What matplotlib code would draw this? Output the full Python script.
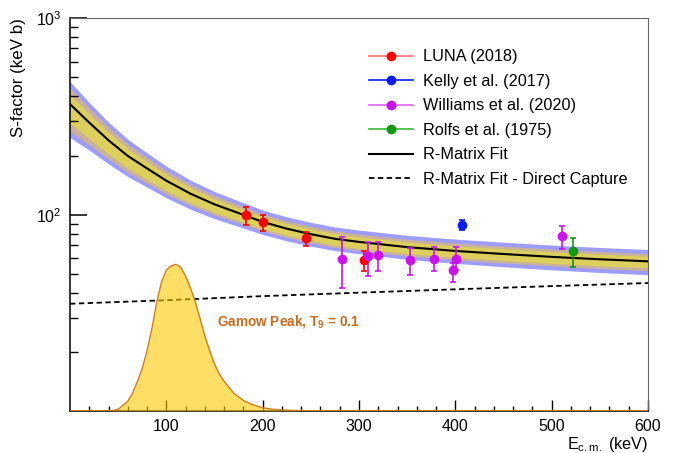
import matplotlib
matplotlib.use("Agg")
import matplotlib.pyplot as plt
import numpy as np
from matplotlib.lines import Line2D
from matplotlib.ticker import LogLocator, NullFormatter, FixedLocator

plt.rcParams['font.family'] = ['Liberation Sans', 'DejaVu Sans']
plt.rcParams['mathtext.fontset'] = 'custom'
plt.rcParams['mathtext.rm'] = 'Liberation Sans'
plt.rcParams['mathtext.it'] = 'Liberation Sans:italic'
plt.rcParams['mathtext.bf'] = 'Liberation Sans:bold'

# R-matrix fit (keV, keV b)
fit_e = [0, 20, 40, 60, 80, 100, 125, 150, 175, 200, 225, 250, 275, 300,
         350, 400, 450, 500, 550, 600]
fit_s = [365, 294, 239, 199, 172, 149, 128, 113, 102, 92, 85, 79.7, 75.5,
         72.8, 68.5, 65.5, 63.2, 61.1, 59.4, 58]
# band half widths in decades (upper / lower), outer -> inner
blue_up = [0.115, 0.102, 0.092, 0.085, 0.079, 0.074, 0.069, 0.065, 0.062, 0.06,
           0.06, 0.06, 0.06, 0.06, 0.06, 0.06, 0.06, 0.06, 0.06, 0.06]
blue_lo = [0.17, 0.14, 0.12, 0.105, 0.095, 0.087, 0.079, 0.073, 0.068, 0.064,
           0.062, 0.061, 0.06, 0.06, 0.062, 0.063, 0.065, 0.066, 0.067, 0.068]
tan_up = [0.084, 0.075, 0.067, 0.061, 0.056, 0.052, 0.048, 0.045, 0.042, 0.04,
          0.04, 0.04, 0.04, 0.04, 0.04, 0.04, 0.04, 0.04, 0.04, 0.04]
tan_lo = [0.139, 0.113, 0.095, 0.083, 0.075, 0.068, 0.06, 0.054, 0.05, 0.046,
          0.045, 0.044, 0.044, 0.044, 0.045, 0.045, 0.046, 0.046, 0.047, 0.047]
yel_up = [0.048, 0.044, 0.04, 0.037, 0.034, 0.032, 0.03, 0.028, 0.027, 0.026,
          0.026, 0.026, 0.026, 0.026, 0.026, 0.026, 0.026, 0.026, 0.026, 0.026]
yel_lo = [0.095, 0.081, 0.07, 0.062, 0.056, 0.051, 0.046, 0.042, 0.038, 0.035,
          0.034, 0.033, 0.033, 0.033, 0.033, 0.033, 0.033, 0.033, 0.033, 0.033]

dc_e = [0, 100, 200, 300, 400, 500, 600]
dc_s = [35.3, 36.8, 38.6, 40.2, 41.8, 43.4, 45.0]

# data sets: energy, S, err low, err high
luna_e = [183, 200, 245, 305.5]
luna_s = [99.2, 91.9, 76.2, 58.6]
luna_lo = [10.2, 8.9, 6.5, 7.1]
luna_hi = [10.8, 7.3, 5.8, 7.2]

kelly_e = [407]
kelly_s = [88.9]
kelly_lo = [4.9]
kelly_hi = [4.7]

will_e = [282, 309.7, 319.3, 352.8, 377.4, 397.7, 400.2, 511]
will_s = [59.6, 61.4, 62.1, 58.6, 59.8, 52.6, 59.6, 77.6]
will_lo = [17.1, 12.4, 10.1, 9.4, 8.3, 7.3, 7.0, 10.5]
will_hi = [17.1, 11.7, 10.3, 9.2, 8.5, 4.4, 8.7, 9.7]

rolfs_e = [522]
rolfs_s = [65.6]
rolfs_lo = [11.4]
rolfs_hi = [10.6]

# Gamow peak, relative height
gam_e = [0, 40, 45, 50, 60, 65, 70, 75, 80, 85, 90, 95, 100, 105, 110, 115, 120,
         125, 130, 135, 140, 145, 150, 155, 160, 170, 180, 190, 200, 210, 220,
         240, 600]
gam_h = [0, 0, 0.002, 0.01, 0.065, 0.12, 0.2, 0.29, 0.41, 0.56, 0.74, 0.88, 0.96,
         0.99, 1.0, 0.98, 0.92, 0.84, 0.745, 0.63, 0.51, 0.41, 0.32, 0.25, 0.2,
         0.12, 0.07, 0.04, 0.02, 0.01, 0.005, 0, 0]

fig = plt.figure(figsize=(6.83, 4.53), dpi=100)
ax = fig.add_axes([70 / 683, 1 - 410.7 / 453, 578 / 683, 392.7 / 453])

fe = np.array(fit_e)
fs = np.log10(fit_s)
for up, lo, col in [(blue_up, blue_lo, '#9d9dff'), (tan_up, tan_lo, '#c9b19c'),
                    (yel_up, yel_lo, '#dccf5c')]:
    ax.fill_between(fe, 10 ** (fs - np.array(lo)), 10 ** (fs + np.array(up)),
                    color=col, lw=0, zorder=1)
ax.plot(fit_e, fit_s, color='black', lw=1.5, zorder=3)
ax.plot(dc_e, dc_s, color='black', lw=1.3, dashes=(3.0, 1.9), zorder=3)

sets = [
    (luna_e, luna_s, luna_lo, luna_hi, '#ff0000', '#ff7070', 'LUNA (2018)'),
    (kelly_e, kelly_s, kelly_lo, kelly_hi, '#0a1cf0', '#0a1cf0', 'Kelly et al. (2017)'),
    (will_e, will_s, will_lo, will_hi, '#cc11ee', '#dd66f5', 'Williams et al. (2020)'),
    (rolfs_e, rolfs_s, rolfs_lo, rolfs_hi, '#119911', '#33bb33', 'Rolfs et al. (1975)'),
]
handles = []
for e, s, lo, hi, mc, lc, lab in sets:
    ax.errorbar(e, s, yerr=[lo, hi], fmt='o', color=mc, ms=6, elinewidth=1.2,
                capsize=2.2, capthick=1.2, zorder=5)
    handles.append(Line2D([], [], color=lc, lw=1.2, marker='o', ms=6,
                          markerfacecolor=mc, markeredgecolor=mc, label=lab))
handles.append(Line2D([], [], color='black', lw=1.5, label='R-Matrix Fit'))
handles.append(Line2D([], [], color='black', lw=1.3, dashes=(3.0, 1.9),
                      label='R-Matrix Fit - Direct Capture'))

ax.set_xlim(0, 600)
ax.set_yscale('log')
ax.set_ylim(10.1, 1000)
ax.xaxis.set_major_locator(FixedLocator([100, 200, 300, 400, 500, 600]))
ax.xaxis.set_minor_locator(FixedLocator(list(range(20, 600, 20))))
ax.yaxis.set_major_locator(LogLocator(base=10, numticks=10))
ax.yaxis.set_minor_locator(LogLocator(base=10, subs=np.arange(2, 10), numticks=20))
ax.yaxis.set_minor_formatter(NullFormatter())
ax.tick_params(which='both', direction='in', top=False, right=False,
               labelsize=11.5, color='black')
ax.tick_params(axis='y', which='major', length=12, width=1.1, pad=6)
ax.tick_params(axis='y', which='minor', length=6, width=1.0)
ax.tick_params(axis='x', which='major', length=8, width=1.0, pad=6)
ax.tick_params(axis='x', which='minor', length=3.5, width=1.0)
for side in ['top', 'right']:
    ax.spines[side].set_color('#666666')
for side in ['left', 'bottom']:
    ax.spines[side].set_color('black')
    ax.spines[side].set_linewidth(1.1)

ax.set_ylabel('S-factor (keV b)', fontsize=12.2, loc='top', labelpad=7)
ax.set_xlabel(r'E$_{\rm c.m.}$ (keV)', fontsize=11.7, loc='right', labelpad=1)

leg = ax.legend(handles=handles, loc='upper left', bbox_to_anchor=(369 / 683, 1 - 49.5 / 453),
                bbox_transform=fig.transFigure, frameon=False, fontsize=11.7,
                handlelength=2.7, handletextpad=0.6, labelspacing=0.58,
                borderaxespad=0, borderpad=0)

ax2 = ax.twinx()
ax2.set_ylim(0, 392.7 / 146.3)
ax2.fill_between(gam_e, 0, gam_h, color='#ffc800', alpha=0.6, lw=0, zorder=2)
ax2.plot(gam_e, gam_h, color='#d47a1e', lw=1.0, zorder=3)
ax2.set_axis_off()
ax2.set_xlim(0, 600)

ax.text(153, 28.6, r'Gamow Peak, T$_\mathbf{9}$ = 0.1', color='#cc6a1f',
        fontsize=9.8, fontweight='bold', va='center', transform=ax.transData)

fig.savefig('out.png', dpi=100)
